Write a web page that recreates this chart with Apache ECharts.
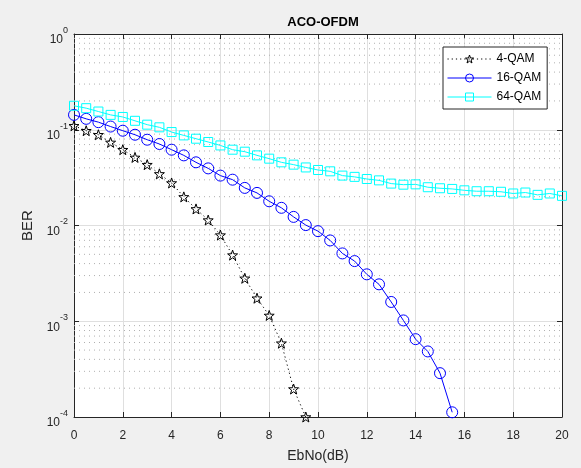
<!DOCTYPE html>
<html>
<head>
<meta charset="utf-8">
<script src="https://cdn.jsdelivr.net/npm/echarts@6/dist/echarts.min.js"></script>
<style>
html,body{margin:0;padding:0;background:#f0f0f0;}
#chart{width:581px;height:468px;}
</style>
</head>
<body>
<div id="chart"></div>
<script>
const ebno = [0,0.5,1,1.5,2,2.5,3,3.5,4,4.5,5,5.5,6,6.5,7,7.5,8,8.5,9,9.5,10,10.5,11,11.5,12,12.5,13,13.5,14,14.5,15,15.5,16,16.5,17,17.5,18,18.5,19,19.5,20];
const ber4 = [0.110,0.0977,0.0887,0.0738,0.0619,0.0514,0.0432,0.0346,0.0278,0.0199,0.0149,0.0114,0.00794,0.00491,0.00281,0.00174,0.00115,0.00059,0.000196,0.0001];
const ber16 = [0.143,0.130,0.120,0.108,0.0977,0.0887,0.0787,0.0710,0.0619,0.054,0.0457,0.0395,0.0332,0.0301,0.0247,0.0219,0.0179,0.0153,0.0123,0.0101,0.00873,0.00698,0.00511,0.00425,0.00309,0.00243,0.00159,0.00102,0.00065,0.000484,0.000287,0.000112];
const ber64 = [0.178,0.168,0.155,0.143,0.136,0.124,0.113,0.106,0.0946,0.0873,0.0806,0.0745,0.0686,0.0619,0.059,0.054,0.0499,0.0457,0.0432,0.0404,0.0380,0.0368,0.0332,0.0322,0.0306,0.0296,0.0274,0.0267,0.0269,0.0251,0.0245,0.0241,0.0233,0.0228,0.0228,0.0225,0.0216,0.0221,0.0209,0.0216,0.0204];
const seriesNames = ['4-QAM','16-QAM','64-QAM'];
const minorY = [];
[1e-4,1e-3,1e-2,1e-1].forEach(function(d){for(let k=2;k<=9;k++){minorY.push(+(d*k).toPrecision(3));}});

function pairs(vals){return vals.map(function(v,i){return [ebno[i], v];});}

const star = 'path://M0,-10 L2.35,-3.24 L9.51,-3.09 L3.8,1.24 L5.88,8.09 L0,4 L-5.88,8.09 L-3.8,1.24 L-9.51,-3.09 L-2.35,-3.24 Z';
const circ = 'path://M10,0 A10,10 0 1 1 -10,0 A10,10 0 1 1 10,0 Z';
const sq = 'path://M-10,-10 L10,-10 L10,10 L-10,10 Z';
const axisColor = '#262626';
const font = 'Liberation Sans, Arial, Helvetica, sans-serif';
const dotDash = [1.2, 3];

const chart = echarts.init(document.getElementById('chart'));
chart.setOption({
  backgroundColor: '#f0f0f0',
  animation: false,
  textStyle: {fontFamily: font},
  title: {
    text: 'ACO-OFDM', left: 318, top: 11, textAlign: 'center',
    textStyle: {fontSize: 13, fontWeight: 'bold', color: '#000', fontFamily: font}
  },
  legend: {
    data: [
      {name: seriesNames[0], lineStyle: {width: 1, type: dotDash, color: '#000'}},
      {name: seriesNames[1], lineStyle: {width: 1, type: 'solid', color: '#0000ff'}},
      {name: seriesNames[2], lineStyle: {width: 1, type: 'solid', color: '#00ffff'}}
    ],
    orient: 'vertical', left: 443, top: 47,
    backgroundColor: '#fff', borderColor: axisColor, borderWidth: 1, borderRadius: 0,
    padding: [5, 6, 5, 4], itemGap: 5, itemWidth: 44, itemHeight: 10,
    itemStyle: {borderWidth: 1},
    textStyle: {fontSize: 12, color: '#000', fontFamily: font, lineHeight: 14}
  },
  grid: {left: 74, right: 19, top: 34, bottom: 50, show: true, backgroundColor: '#fff', borderWidth: 0},
  xAxis: [{
    type: 'value', min: 0, max: 20, interval: 2,
    name: 'EbNo(dB)', nameLocation: 'middle', nameGap: 32,
    nameTextStyle: {fontSize: 14, color: axisColor, fontFamily: font},
    axisLine: {show: true, onZero: false, lineStyle: {color: axisColor}},
    axisTick: {show: true, inside: true, length: 5, lineStyle: {color: axisColor}},
    axisLabel: {fontSize: 12, color: axisColor, margin: 13, fontFamily: font},
    splitLine: {show: true, lineStyle: {color: '#dfdfdf', width: 1}}
  },{
    type: 'value', min: 0, max: 20, interval: 2, position: 'top',
    axisLine: {show: true, onZero: false, lineStyle: {color: axisColor}},
    axisTick: {show: true, inside: true, length: 5, lineStyle: {color: axisColor}},
    axisLabel: {show: false}, splitLine: {show: false}
  }],
  yAxis: [{
    type: 'log', logBase: 10, min: 1e-4, max: 1,
    name: 'BER', nameLocation: 'middle', nameGap: 33,
    nameTextStyle: {fontSize: 15, color: axisColor, fontFamily: font},
    axisLine: {show: true, onZero: false, lineStyle: {color: axisColor}},
    axisTick: {show: true, inside: true, length: 5, lineStyle: {color: axisColor}},
    axisLabel: {
      margin: 6, color: axisColor, padding: [4, 0, 0, 0],
      formatter: function(v){ const e = Math.round(Math.log10(v)); return '{b|10}{s|' + e + '}'; },
      rich: {
        b: {fontSize: 12, color: axisColor, fontFamily: font, verticalAlign: 'bottom', lineHeight: 20},
        s: {fontSize: 9, color: axisColor, fontFamily: font, verticalAlign: 'top', lineHeight: 20}
      }
    },
    splitLine: {show: true, lineStyle: {color: '#dfdfdf', width: 1}}
  },{
    type: 'log', logBase: 10, min: 1e-4, max: 1, position: 'right',
    axisLine: {show: true, onZero: false, lineStyle: {color: axisColor}},
    axisTick: {show: true, inside: true, length: 5, lineStyle: {color: axisColor}},
    axisLabel: {show: false}, splitLine: {show: false}
  }],
  series: [
    {
      name: '4-QAM', type: 'line', data: pairs(ber4), z: 3,
      symbol: star, symbolSize: 10, showAllSymbol: true,
      color: '#000',
      lineStyle: {color: '#000', width: 1, type: dotDash},
      itemStyle: {color: 'rgba(255,255,255,0)', borderColor: '#000', borderWidth: 1}
    },
    {
      name: '16-QAM', type: 'line', data: pairs(ber16), z: 3,
      symbol: circ, symbolSize: 11, showAllSymbol: true,
      color: '#0000ff',
      lineStyle: {color: '#0000ff', width: 1, type: 'solid'},
      itemStyle: {color: 'rgba(255,255,255,0)', borderColor: '#0000ff', borderWidth: 1}
    },
    {
      name: '64-QAM', type: 'line', data: pairs(ber64), z: 3,
      symbol: sq, symbolSize: 9, showAllSymbol: true,
      color: '#00ffff',
      lineStyle: {color: '#00ffff', width: 1, type: 'solid'},
      itemStyle: {color: 'rgba(255,255,255,0)', borderColor: '#00ffff', borderWidth: 1}
    },
    {
      type: 'custom', name: 'minorGrid', silent: true, z: 1,
      xAxisIndex: 0, yAxisIndex: 0,
      data: minorY.map(function(v){return [0, v];}),
      renderItem: function(params, api){
        const p0 = api.coord([0, api.value(1)]);
        const p1 = api.coord([20, api.value(1)]);
        return {type: 'line', shape: {x1: p0[0], y1: p0[1], x2: p1[0], y2: p1[1]},
          style: {stroke: '#b0b0b0', lineWidth: 1, lineDash: [1, 4]}};
      }
    }
  ]
});
</script>
</body>
</html>
